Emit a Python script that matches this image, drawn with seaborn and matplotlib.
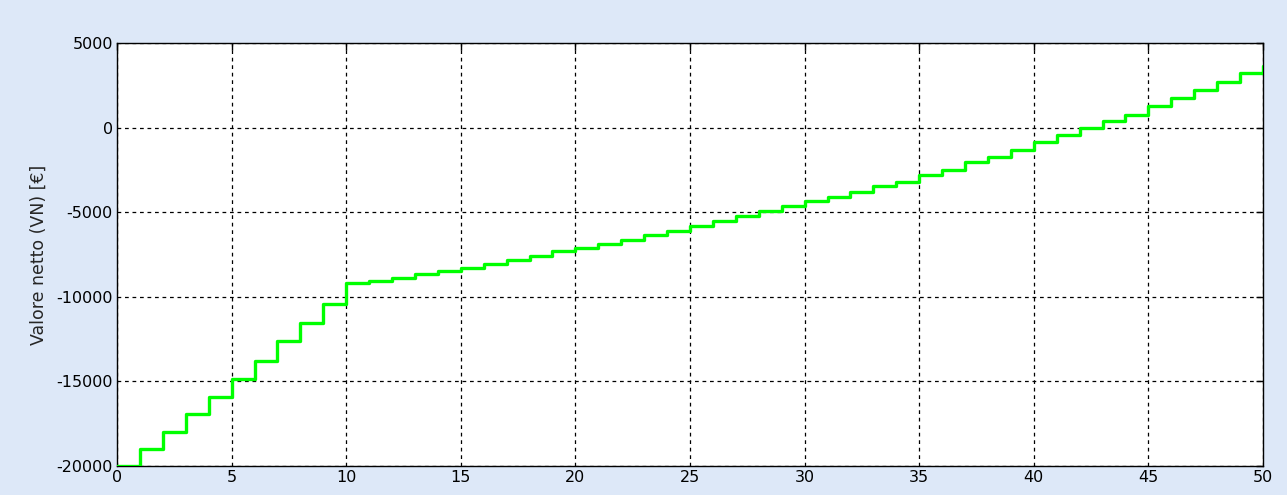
import matplotlib
matplotlib.use("Agg")
import matplotlib.pyplot as plt
import seaborn as sns
import pandas as pd

# Net value per year (stairs)
years = list(range(0, 51))
net_value = [
    -20000, -19000, -18000, -16950, -15900, -14870, -13780, -12630, -11560, -10450,
    -9200, -9040, -8880, -8660, -8490, -8310, -8060, -7800, -7600, -7300,
    -7100, -6860, -6660, -6370, -6110, -5800, -5520, -5230, -4930, -4610,
    -4350, -4090, -3790, -3480, -3190, -2810, -2480, -2060, -1730, -1350,
    -850, -440, -30, 400, 760, 1270, 1720, 2230, 2720, 3200, 3660,
]
x_ticks = list(range(0, 51, 5))
y_ticks = list(range(-20000, 5001, 5000))

sns.set_style("white")
plt.rcParams["font.family"] = ["DejaVu Sans"]
plt.rcParams["axes.unicode_minus"] = False

df = pd.DataFrame({"anno": years, "vn": net_value})

fig = plt.figure(figsize=(12.87, 4.95), dpi=100, facecolor="#dde8f8")
ax = fig.add_axes([117 / 1287, 1 - 466 / 495, (1263 - 117) / 1287, (466 - 43) / 495])
ax.set_facecolor("white")

sns.lineplot(data=df, x="anno", y="vn", ax=ax, drawstyle="steps-post",
             color="#00ff00", linewidth=2.4, zorder=3)

ax.set_xlim(0, 50)
ax.set_ylim(-20000, 5000)
ax.set_xticks(x_ticks)
ax.set_yticks(y_ticks)
ax.set_xlabel("")
ax.set_ylabel("Valore netto (VN) [€]", fontsize=12.5, labelpad=6)

ax.grid(True, color="black", linestyle=(0, (3, 3)), linewidth=0.9)
ax.tick_params(direction="in", length=5, width=1, colors="black",
               top=True, right=True, labelsize=11.5, pad=3)
for s in ax.spines.values():
    s.set_color("black")
    s.set_linewidth(1.0)
    s.set_visible(True)

fig.savefig("out.png", dpi=100, facecolor=fig.get_facecolor())
